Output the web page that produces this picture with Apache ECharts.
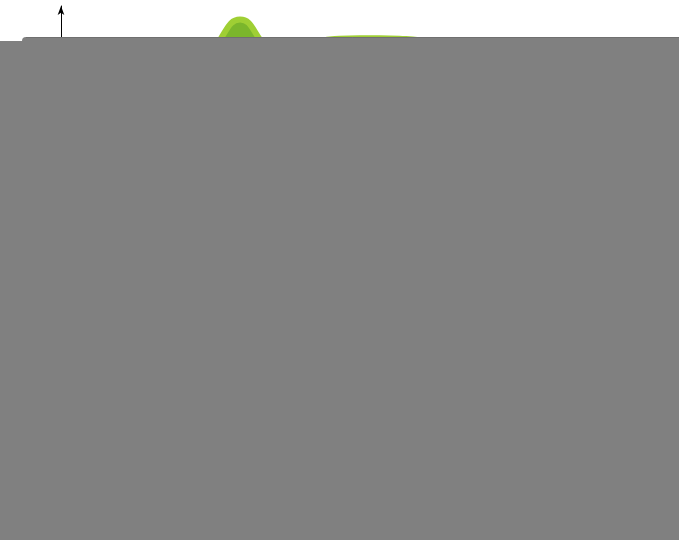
<!DOCTYPE html>
<html>
<head>
<meta charset="utf-8">
<script src="https://cdn.jsdelivr.net/npm/echarts@6/dist/echarts.min.js"></script>
<style>
  html, body { margin: 0; padding: 0; background: #fff; }
  #main { width: 679px; height: 540px; }
</style>
</head>
<body>
<div id="main"></div>
<script>
// x categories (days), only the top of the curve is visible in the picture
var days = ['1', '2', '3', '4', '5', '6', '7', '8', '9', '10',
            '11', '12', '13', '14', '15', '16', '17', '18', '19', '20',
            '21', '22', '23', '24', '25', '26', '27', '28', '29', '30'];
var values = [80, 84, 82, 86, 85, 88, 87, 85, 93.3, 97.3,
              93.3, 86, 91.0, 93.0, 93.5, 93.6, 93.6, 93.5, 93.2, 91,
              88, 86, 87, 85, 84, 86, 83, 82, 84, 81];

var myChart = echarts.init(document.getElementById('main'));
var option = {
    animation: false,
    grid: {
        left: 61,
        right: 41,
        top: 6,
        bottom: 30
    },
    xAxis: {
        type: 'category',
        boundaryGap: false,
        data: days,
        axisLine: { show: false },
        axisTick: { show: false },
        axisLabel: { show: false }
    },
    yAxis: {
        type: 'value',
        min: 0,
        max: 100,
        splitLine: { show: false },
        axisLabel: { show: false },
        axisLine: {
            show: true,
            symbol: ['none', 'arrow'],
            symbolSize: [5, 9],
            lineStyle: { color: '#000', width: 1 } // arrow at the top
        }
    },
    series: [
        {
            type: 'line',
            smooth: true,
            symbol: 'none',
            data: values,
            lineStyle: { color: '#9fcf34', width: 6 },
            areaStyle: { color: '#7bb62c', opacity: 1 }
        }
    ],
    graphic: [
        // the grey block that hides the lower part
        {
            type: 'rect',
            z: 100,
            shape: { x: 0, y: 41, width: 40, height: 499 },
            style: { fill: '#808080' }
        },
        {
            type: 'rect',
            z: 101,
            shape: { x: 22, y: 37, width: 657, height: 503, r: [4, 0, 0, 0] },
            style: { fill: '#808080' }
        },
        {
            type: 'line',
            z: 102,
            shape: { x1: 26, y1: 37.5, x2: 679, y2: 37.5 },
            style: { stroke: '#707070', lineWidth: 1 }
        }
    ]
};
myChart.setOption(option);
</script>
</body>
</html>
